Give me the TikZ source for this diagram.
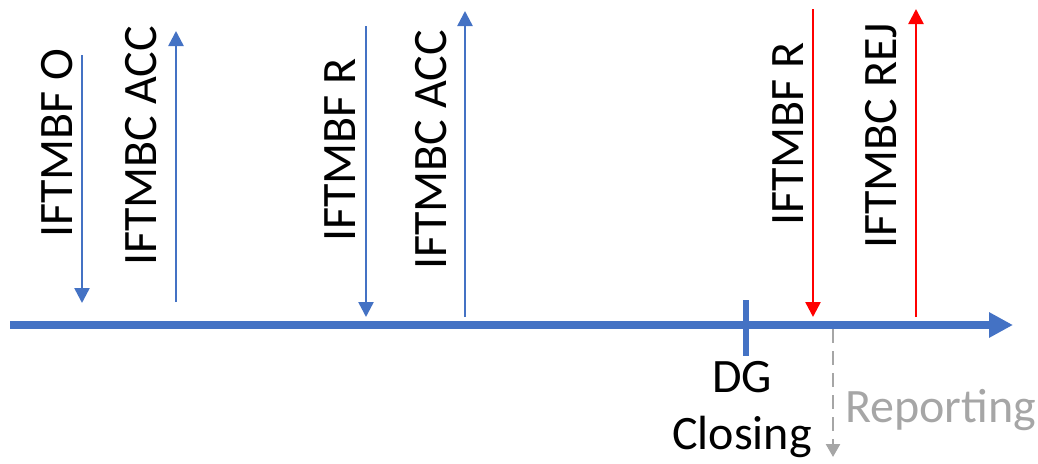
\documentclass[tikz,border=0pt]{standalone}
\usepackage{fontspec}
\setmainfont{Carlito}
\usetikzlibrary{arrows.meta}

\definecolor{msgblue}{HTML}{4472C4}
\definecolor{msgred}{HTML}{FF0000}
\definecolor{repgray}{HTML}{A6A6A6}

\tikzset{
  msg/.style={line width=2.5pt, -{Triangle[width=15pt,length=15pt]}},
  lbl/.style={rotate=90, inner sep=0pt, font=\fontsize{48}{58}\selectfont},
}

\begin{document}
\begin{tikzpicture}[x=1pt,y=-1pt] % pixel grid, y downwards
            \useasboundingbox (0,0) rectangle (1038,463);

            % time line
            \coordinate (start) at (10,325);
            \coordinate (end) at (1013,325);
            \draw[msgblue, line width=8pt, -{Triangle[width=24pt,length=24pt]}] (start) -- (end);

            % messages
            \coordinate (o top) at (82,55);    \coordinate (o bot) at (82,303);
            \coordinate (a1 top) at (176,31);  \coordinate (a1 bot) at (176,302);
            \coordinate (r1 top) at (366,26);  \coordinate (r1 bot) at (366,317);
            \coordinate (a2 top) at (465,11);  \coordinate (a2 bot) at (465,317);
            \coordinate (r2 top) at (813,9);   \coordinate (r2 bot) at (813,317);
            \coordinate (rej top) at (916,9);  \coordinate (rej bot) at (916,317);

            \draw[msg, msgblue] (o top) -- (o bot);
            \draw[msg, msgblue] (a1 bot) -- (a1 top);
            \draw[msg, msgblue] (r1 top) -- (r1 bot);
            \draw[msg, msgblue] (a2 bot) -- (a2 top);
            \draw[msg, msgred] (r2 top) -- (r2 bot);
            \draw[msg, msgred] (rej bot) -- (rej top);

            \node[lbl] (o) at (57,143) {IFTMBF O};
            \node[lbl] (a1) at (141,146) {IFTMBC ACC};
            \node[lbl] (r1) at (340,150) {IFTMBF R};
            \node[lbl] (a2) at (431,150) {IFTMBC ACC};
            \node[lbl] (r2) at (788,134) {IFTMBF R};
            \node[lbl] (rej) at (881,136) {IFTMBC REJ};

            % DG closing
            \coordinate (dg top) at (746,300);
            \coordinate (dg bot) at (746,356);
            \draw[msgblue, line width=5.5pt] (dg top) -- (dg bot);
            \node[inner sep=0pt, align=center, font=\fontsize{48}{57}\selectfont] (dg) at (742,410) {DG\\Closing};

            % reporting
            \coordinate (rep top) at (833,329);
            \coordinate (rep bot) at (833,457);
            \draw[repgray, line width=2.5pt, dash pattern=on 14pt off 8pt, -{Triangle[width=14pt,length=13pt]}] (rep top) -- (rep bot);
            \node[anchor=west, inner sep=0pt, text=repgray, font=\fontsize{48}{58}\selectfont] (rep) at (845,410) {Reporting};
        \end{tikzpicture}
\end{document}
